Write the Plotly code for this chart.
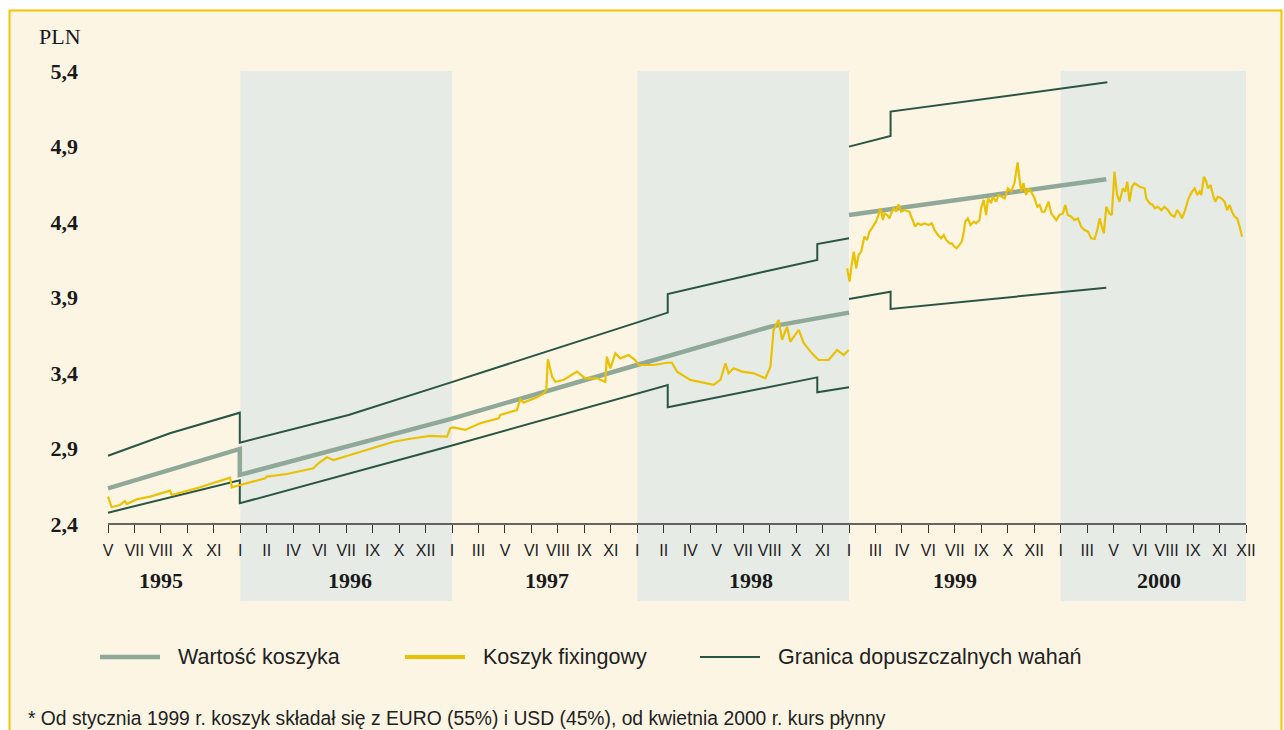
import plotly.graph_objects as go

# ---- data (x in tick units: ticks are evenly spaced, as printed on the axis) ----
month_labels = ['V', 'VII', 'VIII', 'X', 'XI',
                'I', 'II', 'IV', 'VI', 'VII', 'IX', 'X', 'XII',
                'I', 'III', 'V', 'VI', 'VIII', 'IX', 'XI',
                'I', 'II', 'IV', 'V', 'VII', 'VIII', 'X', 'XI',
                'I', 'III', 'IV', 'VI', 'VII', 'IX', 'X', 'XII',
                'I', 'III', 'V', 'VI', 'VIII', 'IX', 'XI', 'XII']
years = ['1995', '1996', '1997', '1998', '1999', '2000']
year_label_pos = [2.0, 9.15, 16.58, 24.29, 32.02, 39.72]
year_start = [0, 5, 13, 20, 28, 36, 43]
shaded = [1, 3, 5]  # 1996, 1998, 2000

y_ticks = [2.4, 2.9, 3.4, 3.9, 4.4, 4.9, 5.4]
y_ticktext = ['2,4', '2,9', '3,4', '3,9', '4,4', '4,9', '5,4']

# Wartość koszyka
basket_x = [0, 4.98, 4.98, 12.93, 19.99, 25.03, 28.0, None, 28.0, 37.72]
basket_y = [2.636, 2.897, 2.725, 3.095, 3.453, 3.707, 3.80, None, 4.446, 4.683]

# Granica dopuszczalnych wahań - górna
upper_x = [0, 2.34, 4.98, 4.98, 9.09, 12.93, 21.15, 21.15, 24.78, 26.8, 26.8, 28.0,
           None, 28.0, 29.57, 29.57, 37.76]
upper_y = [2.852, 3.001, 3.137, 2.939, 3.122, 3.336, 3.80, 3.923, 4.071, 4.148, 4.254, 4.292,
           None, 4.899, 4.970, 5.131, 5.325]

# Granica dopuszczalnych wahań - dolna
lower_x = [0, 4.98, 4.98, 12.93, 21.15, 21.15, 26.8, 26.8, 28.0,
           None, 28.0, 29.57, 29.57, 37.72]
lower_y = [2.475, 2.689, 2.537, 2.917, 3.320, 3.173, 3.371, 3.272, 3.305,
           None, 3.890, 3.938, 3.824, 3.965]

# Koszyk fixingowy, 1995-1998
fixing_x_a = [0.0, 0.14, 0.45, 0.64, 0.71, 1.09, 1.59, 2.34, 2.41, 3.48, 4.61, 4.68, 4.99,
              5.94, 6.00, 6.76, 7.76, 7.95, 8.27, 8.52, 9.02, 9.78, 10.79, 11.54, 12.17,
              12.81, 12.93, 13.05, 13.50, 14.06, 14.76, 14.82, 15.45, 15.58, 15.70, 16.21,
              16.46, 16.56, 16.62, 16.78, 16.90, 17.21, 17.72, 18.03, 18.48, 18.79, 18.85,
              18.98, 19.17, 19.36, 19.67, 19.92, 20.05, 20.62, 21.12, 21.31, 21.50, 22.00,
              22.51, 22.88, 23.14, 23.33, 23.45, 23.64, 23.96, 24.40, 24.84, 25.03, 25.15,
              25.34, 25.47, 25.66, 25.78, 26.10, 26.29, 26.60, 26.85, 27.23, 27.55, 27.80,
              27.99]
fixing_y_a = [2.581, 2.511, 2.526, 2.552, 2.532, 2.564, 2.581, 2.621, 2.592, 2.643, 2.707, 2.643, 2.658,
              2.703, 2.714, 2.731, 2.769, 2.802, 2.842, 2.824, 2.850, 2.890, 2.945, 2.968, 2.983,
              2.978, 3.034, 3.040, 3.023, 3.067, 3.100, 3.122, 3.155, 3.226, 3.204, 3.239,
              3.265, 3.287, 3.491, 3.376, 3.342, 3.354, 3.409, 3.365, 3.365, 3.342, 3.508,
              3.431, 3.530, 3.497, 3.519, 3.486, 3.453, 3.453, 3.468, 3.468, 3.409, 3.354,
              3.336, 3.321, 3.354, 3.464, 3.398, 3.431, 3.409, 3.398, 3.365, 3.442, 3.685,
              3.751, 3.619, 3.707, 3.607, 3.685, 3.597, 3.530, 3.486, 3.486, 3.552, 3.519,
              3.552]

# Koszyk fixingowy, 1999-2000
fixing_x_b = [27.93, 28.02, 28.10, 28.18, 28.27, 28.36, 28.46, 28.52, 28.58, 28.68, 28.77, 28.86,
              28.94, 29.02, 29.09, 29.19, 29.28, 29.34, 29.44, 29.53, 29.59, 29.69, 29.78, 29.87,
              29.97, 30.09, 30.28, 30.41, 30.50, 30.60, 30.72, 30.85, 31.00, 31.13, 31.23, 31.36,
              31.48, 31.58, 31.67, 31.80, 31.88, 31.98, 32.07, 32.17, 32.26, 32.34, 32.39, 32.49,
              32.59, 32.72, 32.80, 32.93, 32.99, 33.09, 33.18, 33.25, 33.37, 33.43, 33.56, 33.65,
              33.75, 33.88, 34.00, 34.13, 34.25, 34.32, 34.37, 34.44, 34.51, 34.59, 34.69, 34.78,
              34.88, 35.01, 35.11, 35.20, 35.29, 35.39, 35.54, 35.64, 35.74, 35.83, 35.95, 36.08,
              36.17, 36.27, 36.40, 36.52, 36.65, 36.77, 36.90, 37.03, 37.15, 37.28, 37.38, 37.47,
              37.55, 37.63, 37.72, 37.84, 37.93, 38.03, 38.13, 38.22, 38.35, 38.44, 38.51, 38.60,
              38.69, 38.79, 38.98, 39.17, 39.23, 39.36, 39.48, 39.55, 39.67, 39.80, 39.92, 40.05,
              40.18, 40.30, 40.40, 40.49, 40.58, 40.68, 40.83, 40.96, 41.06, 41.16, 41.25, 41.31,
              41.41, 41.50, 41.56, 41.66, 41.75, 41.84, 41.94, 42.07, 42.19, 42.29, 42.38, 42.47,
              42.57, 42.67, 42.76, 42.85]
fixing_y_b = [4.093, 4.005, 4.115, 4.204, 4.093, 4.181, 4.204, 4.248, 4.303, 4.281, 4.336, 4.358,
              4.380, 4.402, 4.435, 4.491, 4.413, 4.457, 4.446, 4.424, 4.457, 4.491, 4.468, 4.517,
              4.468, 4.479, 4.468, 4.413, 4.369, 4.391, 4.380, 4.391, 4.380, 4.391, 4.347, 4.314,
              4.292, 4.314, 4.281, 4.259, 4.259, 4.237, 4.226, 4.248, 4.270, 4.336, 4.402, 4.424,
              4.380, 4.402, 4.391, 4.413, 4.491, 4.546, 4.446, 4.557, 4.524, 4.568, 4.535, 4.579,
              4.568, 4.557, 4.623, 4.601, 4.656, 4.722, 4.795, 4.689, 4.601, 4.656, 4.579, 4.623,
              4.601, 4.557, 4.501, 4.513, 4.468, 4.468, 4.535, 4.457, 4.435, 4.413, 4.446, 4.457,
              4.513, 4.446, 4.435, 4.413, 4.424, 4.369, 4.347, 4.336, 4.292, 4.287, 4.347, 4.424,
              4.369, 4.325, 4.501, 4.457, 4.446, 4.733, 4.579, 4.535, 4.623, 4.601, 4.667, 4.535,
              4.634, 4.656, 4.634, 4.623, 4.557, 4.524, 4.513, 4.491, 4.501, 4.479, 4.501, 4.479,
              4.446, 4.435, 4.479, 4.457, 4.424, 4.468, 4.557, 4.601, 4.623, 4.579, 4.601, 4.579,
              4.700, 4.667, 4.623, 4.645, 4.579, 4.535, 4.568, 4.557, 4.535, 4.479, 4.513, 4.468,
              4.435, 4.424, 4.369, 4.303]

legend_labels = ['Wartość koszyka', 'Koszyk fixingowy', 'Granica dopuszczalnych wahań']
footnote = '* Od stycznia 1999 r. koszyk składał się z EURO (55%) i USD (45%), od kwietnia 2000 r. kurs płynny'

# ---- styles ----
CREAM = '#fdf5e4'
BORDER = '#f2c500'
SHADE = '#e7ebe6'
GREY = '#8fa898'
YELLOW = '#e9c100'
GREEN = '#2b5543'
SERIF = 'Liberation Serif, Times New Roman, serif'
SANS = 'Liberation Sans, Arial, Helvetica, sans-serif'

W, H = 1284, 730
ML, MR, MT, MB = 93, 38, 71, 206
PW = W - ML - MR
PH = H - MT - MB


def px(x):
    # pixel x -> paper fraction
    return (x - ML) / PW


def py(y):
    # pixel y -> paper fraction
    return (H - MB - y) / PH


fig = go.Figure()

fig.add_trace(go.Scatter(x=upper_x, y=upper_y, mode='lines',
                         line=dict(color=GREEN, width=2), showlegend=False, hoverinfo='skip'))
fig.add_trace(go.Scatter(x=lower_x, y=lower_y, mode='lines',
                         line=dict(color=GREEN, width=2), showlegend=False, hoverinfo='skip'))
fig.add_trace(go.Scatter(x=basket_x, y=basket_y, mode='lines',
                         line=dict(color=GREY, width=4.5), showlegend=False, hoverinfo='skip'))
fig.add_trace(go.Scatter(x=fixing_x_a + [None] + fixing_x_b, y=fixing_y_a + [None] + fixing_y_b,
                         mode='lines', line=dict(color=YELLOW, width=2.2),
                         showlegend=False, hoverinfo='skip'))

shapes = []
# cream panel with yellow border
shapes.append(dict(type='rect', xref='paper', yref='paper', layer='below',
                   x0=px(9.5), x1=px(1281.5), y0=py(760), y1=py(10.5),
                   fillcolor=CREAM, line=dict(color=BORDER, width=2)))
# shaded years
for i in shaded:
    shapes.append(dict(type='rect', xref='x', yref='paper', layer='below',
                       x0=year_start[i], x1=year_start[i + 1], y0=py(601), y1=1,
                       fillcolor=SHADE, line=dict(width=0)))
# x axis baseline
shapes.append(dict(type='line', xref='x', yref='paper', x0=year_start[0], x1=year_start[-1],
                   y0=0, y1=0, line=dict(color='#333333', width=1.3)))

annotations = []
# year labels
for yr, pos in zip(years, year_label_pos):
    annotations.append(dict(text=yr, x=pos, xref='x', y=py(580), yref='paper',
                            showarrow=False, xanchor='center', yanchor='middle',
                            font=dict(family=SERIF, size=22, color='#1a1a1a', weight='bold')))
# unit label
annotations.append(dict(text='PLN', x=px(60), y=py(36), xref='paper', yref='paper',
                        showarrow=False, xanchor='center', yanchor='middle',
                        font=dict(family=SERIF, size=22, color='#1a1a1a')))

# legend (drawn by hand so the samples are long like the original)
legend_colors = [GREY, YELLOW, GREEN]
legend_widths = [4.5, 4, 2]
legend_line_x = [100, 405, 700]
for lab, col, lw, lx in zip(legend_labels, legend_colors, legend_widths, legend_line_x):
    shapes.append(dict(type='line', xref='paper', yref='paper',
                       x0=px(lx), x1=px(lx + 60), y0=py(657), y1=py(657),
                       line=dict(color=col, width=lw)))
    annotations.append(dict(text=lab, x=px(lx + 76), y=py(657), xref='paper', yref='paper',
                            showarrow=False, xanchor='left', yanchor='middle',
                            font=dict(family=SANS, size=21.5, color='#222222')))

annotations.append(dict(text=footnote, x=px(26), y=py(718), xref='paper', yref='paper',
                        showarrow=False, xanchor='left', yanchor='middle',
                        font=dict(family=SANS, size=19.3, color='#222222')))

fig.update_layout(
    width=W, height=H,
    margin=dict(l=ML, r=MR, t=MT, b=MB, pad=0),
    paper_bgcolor='white',
    plot_bgcolor='rgba(0,0,0,0)',
    showlegend=False,
    shapes=shapes,
    annotations=annotations,
    xaxis=dict(range=[-15 / 26.45, 43], tickmode='array', tickvals=list(range(len(month_labels))),
               ticktext=month_labels, ticks='outside', ticklen=8, tickwidth=1.3, tickcolor='#333333',
               tickfont=dict(family=SANS, size=16, color='#222222'), ticklabelstandoff=4,
               showgrid=False, zeroline=False, showline=False, fixedrange=True),
    xaxis2=dict(overlaying='x', matches='x', anchor='y', side='bottom', tickmode='array',
                tickvals=list(range(len(month_labels))), ticks='inside', ticklen=8, tickwidth=1.3,
                tickcolor='#333333', showticklabels=False, showgrid=False, zeroline=False,
                showline=False),
    yaxis=dict(range=[2.4, 5.4], tickmode='array', tickvals=y_ticks, ticktext=y_ticktext,
               ticks='', tickfont=dict(family=SERIF, size=22, color='#1a1a1a', weight='bold'),
               ticklabelstandoff=14, showgrid=False, zeroline=False, showline=False, fixedrange=True),
    yaxis2=dict(overlaying='y', matches='y', anchor='x', side='left', tickmode='array',
                tickvals=y_ticks[1:], ticks='inside', ticklen=30, tickwidth=1.3, tickcolor='#444444',
                showticklabels=False, showgrid=False, zeroline=False, showline=False),
)

# drop the default page margin so the figure sits at the window's corner; no modebar
fig.write_html('out.html', config={'displayModeBar': False},
               post_script="document.body.style.margin='0px';")
